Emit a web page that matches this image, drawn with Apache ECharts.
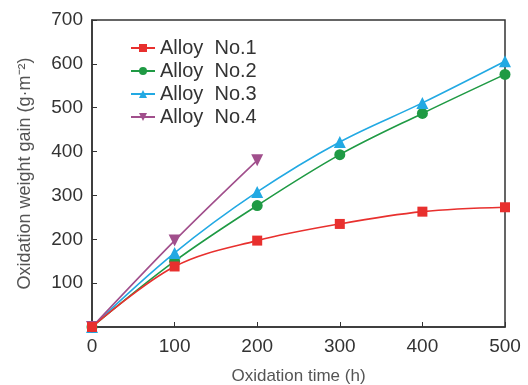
<!DOCTYPE html>
<html>
<head>
<meta charset="utf-8">
<script src="https://cdn.jsdelivr.net/npm/echarts@6/dist/echarts.min.js"></script>
<style>
  html, body { margin: 0; padding: 0; background: #fff; }
  #chart { width: 528px; height: 385px; }
</style>
</head>
<body>
<div id="chart"></div>
<script>
// oxidation time (h)
const times = [0, 100, 200, 300, 400, 500];
const alloy1 = [0, 138, 197, 235, 263, 273];
const alloy2 = [0, 150, 277, 393, 487, 576];
const alloy3 = [0, 169, 308, 422, 511, 606];
const alloy4 = [0, 197, 380];
const seriesNames = ["Alloy  No.1", "Alloy  No.2", "Alloy  No.3", "Alloy  No.4"];

const chart = echarts.init(document.getElementById("chart"));
const font = "Liberation Sans, Arial, sans-serif";

const pairs = (ys) => ys.map((y, i) => [times[i], y]);

const makeSeries = (name, ys, color, symbol, size, rotate, z) => ({
  name,
  type: "line",
  smooth: 0.35,
  data: pairs(ys),
  symbol,
  symbolSize: size,
  symbolRotate: rotate || 0,
  z: z || 2,
  lineStyle: { color, width: 1.6 },
  itemStyle: { color },
});

chart.setOption({
  backgroundColor: "#fff",
  animation: false,
  grid: {
    left: 92, right: 23, top: 20, bottom: 58,
    outerBoundsMode: "none",
    show: true, borderColor: "#333", borderWidth: 1.5,
  },
  legend: {
    orient: "vertical",
    left: 130, top: 38, padding: 0,
    itemWidth: 24, itemHeight: 10, itemGap: 3,
    textStyle: { fontFamily: font, fontSize: 20, lineHeight: 20, color: "#333" },
    data: seriesNames,
  },
  xAxis: {
    type: "value",
    min: 0, max: 500, interval: 100,
    name: "Oxidation time (h)",
    nameLocation: "middle",
    nameGap: 41,
    nameTextStyle: { fontFamily: font, fontSize: 17, color: "#555" },
    axisLine: { lineStyle: { color: "#333", width: 1.5 } },
    axisTick: { inside: true, length: 5, lineStyle: { color: "#333" } },
    axisLabel: { fontFamily: font, fontSize: 19, color: "#333", margin: 10 },
    splitLine: { show: false },
  },
  yAxis: {
    type: "value",
    min: 0, max: 700, interval: 100,
    name: "Oxidation weight gain (g·m⁻²)",
    nameLocation: "middle",
    nameGap: 58,
    nameTextStyle: { fontFamily: font, fontSize: 18, color: "#555" },
    axisLine: { lineStyle: { color: "#333", width: 1.5 } },
    axisTick: { inside: true, length: 5, lineStyle: { color: "#333" } },
    axisLabel: { fontFamily: font, fontSize: 19, color: "#333", margin: 9, showMinLabel: false },
    splitLine: { show: false },
  },
  series: [
    makeSeries(seriesNames[0], alloy1, "#e8302e", "rect", 10, 0, 5),
    makeSeries(seriesNames[1], alloy2, "#1f9a44", "circle", 11),
    makeSeries(seriesNames[2], alloy3, "#22a9e3", "triangle", 12),
    makeSeries(seriesNames[3], alloy4, "#a14f8c", "triangle", 12, 180),
  ],
});
</script>
</body>
</html>
